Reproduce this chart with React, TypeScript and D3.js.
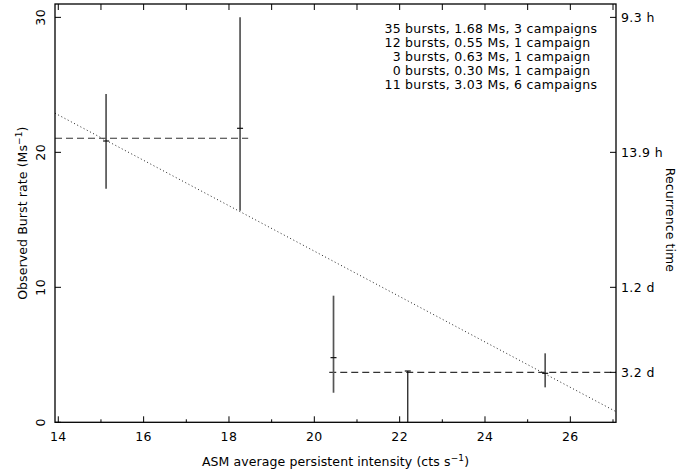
import React from 'react';
import * as d3 from 'd3';

const intensity = [15.12, 18.26, 20.45, 22.19, 25.41];
const rate = [20.84, 21.78, 4.79, 0, 3.63];
const rateHigh = [24.32, 30.0, 9.38, 3.8, 5.11];
const rateLow = [17.3, 15.67, 2.19, 0, 2.59];
const upperLimit = [false, false, false, true, false];

const meanFrom = [13.923, 20.35];
const meanTo = [18.45, 27.07];
const meanRate = [21.04, 3.7];

const fitX = [13.923, 27.07];
const fitY = [22.9, 0.79];

const legendCounts = ['35', '12', '3', '0', '11'];
const legendTexts = [
  'bursts, 1.68 Ms, 3 campaigns',
  'bursts, 0.55 Ms, 1 campaign',
  'bursts, 0.63 Ms, 1 campaign',
  'bursts, 0.30 Ms, 1 campaign',
  'bursts, 3.03 Ms, 6 campaigns',
];

const xTickValues = d3.range(14, 28);
const xLabelValues = [14, 16, 18, 20, 22, 24, 26];
const yTickValues = [0, 10, 20, 30];
const rightTickValues = [30, 20, 10, 3.7];
const rightTickLabels = ['9.3 h', '13.9 h', '1.2 d', '3.2 d'];

const W = 696;
const H = 472;
const L = 55, R = 616, T = 4, B = 422.3;
const FONT = "'DejaVu Sans', sans-serif";

export default function App() {
  const x = d3.scaleLinear().domain([13.923, 27.07]).range([L, R]);
  const y = d3.scaleLinear().domain([0, 30.99]).range([B, T]);
  const fitLine = d3.line<number>().x((d) => x(d)).y((_, i) => y(fitY[i]));

  return (
    <svg width={W} height={H} style={{ position: 'absolute', left: 0, top: 0, background: '#fff' }} fontFamily={FONT}>
      <rect x={0} y={0} width={W} height={H} fill="#fff" />
      {/* fit line */}
      <path d={fitLine(fitX) || ''} fill="none" stroke="#222" strokeWidth={1} strokeDasharray="1,2.6" />
      {/* mean rate dashed lines */}
      {meanRate.map((v, i) => (
        <line key={'m' + i} x1={x(meanFrom[i])} x2={x(meanTo[i])} y1={y(v)} y2={y(v)} stroke="#333" strokeWidth={1.1} strokeDasharray="7,4" />
      ))}
      {/* error bars */}
      {intensity.map((xv, i) => (
        <g key={'e' + i}>
          <line x1={x(xv)} x2={x(xv)} y1={y(rateLow[i])} y2={y(rateHigh[i])} stroke={upperLimit[i] ? '#111' : '#555'} strokeWidth={upperLimit[i] ? 1.2 : 1.7} />
          {upperLimit[i] ? (
            <line x1={x(xv) - 3} x2={x(xv) + 3} y1={y(rateHigh[i])} y2={y(rateHigh[i])} stroke="#111" strokeWidth={1.2} />
          ) : (
            <line x1={x(xv) - 3} x2={x(xv) + 3} y1={y(rate[i])} y2={y(rate[i])} stroke="#111" strokeWidth={1.2} />
          )}
        </g>
      ))}
      {/* frame */}
      <rect x={L} y={T} width={R - L} height={B - T} fill="none" stroke="#000" strokeWidth={1.3} />
      {/* bottom ticks */}
      {xTickValues.map((v) => (
        <line key={'bt' + v} x1={x(v)} x2={x(v)} y1={B} y2={B - (v % 2 === 0 ? 6 : 3)} stroke="#000" strokeWidth={1} />
      ))}
      {/* top ticks */}
      {xTickValues.map((v) => (
        <line key={'tt' + v} x1={x(v)} x2={x(v)} y1={T} y2={T + 6} stroke="#000" strokeWidth={1} />
      ))}
      {xLabelValues.map((v) => (
        <text key={'xl' + v} x={x(v)} y={B + 19} fontSize={12.5} letterSpacing={0.4} textAnchor="middle" fill="#000">{v}</text>
      ))}
      {/* left ticks */}
      {yTickValues.map((v) => (
        <g key={'yl' + v}>
          <line x1={L} x2={L + 6} y1={y(v)} y2={y(v)} stroke="#000" strokeWidth={1} />
          <text transform={`translate(${L - 10},${y(v)}) rotate(-90)`} fontSize={12.5} letterSpacing={0.4} textAnchor="middle" fill="#000">{v}</text>
        </g>
      ))}
      {/* right ticks */}
      {rightTickValues.map((v, i) => (
        <g key={'r' + i}>
          <line x1={R} x2={R - 6} y1={y(v)} y2={y(v)} stroke="#000" strokeWidth={1} />
          <text x={R + 5} y={y(v) + 4.5} fontSize={12.5} letterSpacing={0.4} fill="#000">{rightTickLabels[i]}</text>
        </g>
      ))}
      {/* axis titles */}
      <text x={(L + R) / 2} y={466} fontSize={12.5} letterSpacing={0.1} textAnchor="middle" fill="#000">
        ASM average persistent intensity (cts s<tspan dy={-5} fontSize={9}>−1</tspan><tspan dy={5}>)</tspan>
      </text>
      <text transform={`translate(27,${(T + B) / 2}) rotate(-90)`} fontSize={12.5} letterSpacing={0.1} textAnchor="middle" fill="#000">
        Observed Burst rate (Ms<tspan dy={-5} fontSize={9}>−1</tspan><tspan dy={5}>)</tspan>
      </text>
      <text transform={`translate(666,220) rotate(90)`} fontSize={12.5} letterSpacing={0.1} textAnchor="middle" fill="#000">Recurrence time</text>
      {/* legend */}
      {legendCounts.map((c, i) => (
        <g key={'lg' + i}>
          <text x={401} y={32.5 + i * 14.2} fontSize={12.5} letterSpacing={0.3} textAnchor="end" fill="#000">{c}</text>
          <text x={405} y={32.5 + i * 14.2} fontSize={12.5} letterSpacing={0.3} fill="#000">{legendTexts[i]}</text>
        </g>
      ))}
    </svg>
  );
}
